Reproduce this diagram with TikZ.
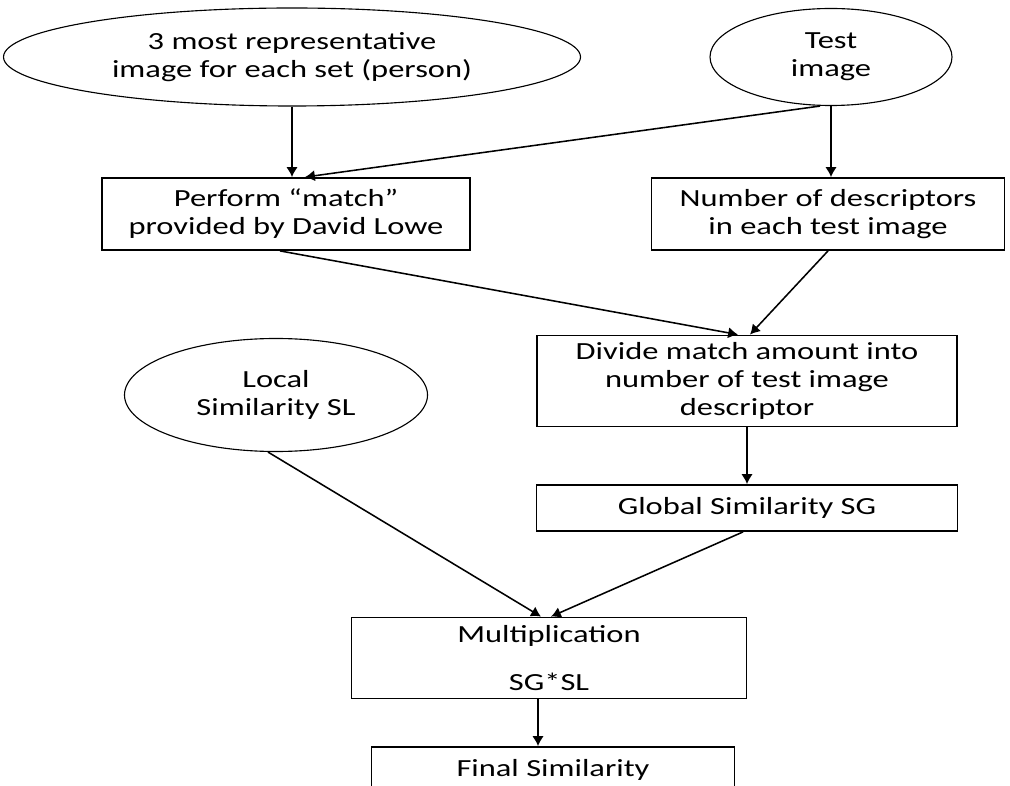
\documentclass[tikz,border=0pt]{standalone}
\usepackage{fontspec}
\setmainfont{Carlito}[FakeStretch=1.32]
\usetikzlibrary{arrows,arrows.meta,shapes,positioning,calc}

\begin{document}
\begin{tikzpicture}[x=0.025cm,y=-0.025cm,>={Latex[length=7pt,width=8pt]},
  font=\fontsize{17.5}{20}\selectfont,
  box/.style={draw,line width=1.3pt,align=center,inner sep=0pt},
  oval/.style={draw,ellipse,line width=0.8pt,align=center,inner sep=0pt},
  link/.style={->,line width=1.1pt}]
  \useasboundingbox (0,0) rectangle (1010,786);
  \clip (0,0) rectangle (1010,786);

  % inputs
  \node[oval,minimum width=577*0.025cm,minimum height=98*0.025cm] (repr) at (292,57)
    {3 most representative\\image for each set (person)};
  \node[oval,minimum width=242*0.025cm,minimum height=97*0.025cm] (test) at (831,57)
    {Test\\image};

  % processing
  \node[box,minimum width=368*0.025cm,minimum height=72*0.025cm] (match) at (286,214)
    {Perform ``match''\\provided by David Lowe};
  \node[box,minimum width=353*0.025cm,minimum height=72*0.025cm] (num) at (828,214)
    {Number of descriptors\\in each test image};
  \node[box,minimum width=420*0.025cm,minimum height=91*0.025cm] (divide) at (747,381)
    {Divide match amount into\\number of test image\\descriptor};
  \node[box,minimum width=421*0.025cm,minimum height=46*0.025cm] (sg) at (747,508)
    {Global Similarity SG};
  \node[oval,minimum width=303*0.025cm,minimum height=113*0.025cm] (local) at (276,395)
    {Local\\Similarity SL};
  \node[box,minimum width=395*0.025cm,minimum height=81*0.025cm] (mult) at (549,658)
    {Multiplication\\[14pt]SG*SL};
  \node[box,minimum width=363*0.025cm,minimum height=46*0.025cm] (final) at (553,770)
    {Final Similarity};

  % connectors
  \draw[link] (repr.south) -- (repr.south |- match.north);
  \draw[link] (test.south) -- (test.south |- num.north);
  \draw[link] ([xshift=-11*0.025cm]test.south) -- ($(match.north)+(19,0)$);
  \draw[link] ([xshift=-6*0.025cm]match.south) -- ($(divide.north)+(-9,0)$);
  \draw[link] (num.south) -- ($(divide.north)+(3,0)$);
  \draw[link] (divide.south) -- (sg.north);
  \draw[link] ([xshift=-8*0.025cm]local.south) -- ($(mult.north)+(-8,0)$);
  \draw[link] ([xshift=-4*0.025cm]sg.south) -- ($(mult.north)+(2,0)$);
  \draw[link] ($(mult.south)+(-11,0)$) coordinate (m) -- (m |- final.north);
\end{tikzpicture}
\end{document}
